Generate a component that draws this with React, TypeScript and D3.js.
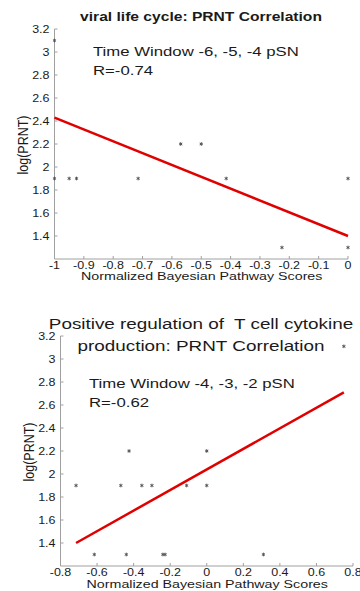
import { useEffect, useRef } from "react";
import * as d3 from "d3";

const width = 360;
const height = 591;

// panel 1: viral life cycle
const scoresA = [-1, -0.95, -0.925, -0.715, -0.57, -0.5, -0.415, -0.225, 0, 0, -1];
const prntA = [1.9, 1.9, 1.9, 1.9, 2.2, 2.2, 1.9, 1.3, 1.9, 1.3, 3.1];
const fitA = [
  [-1, 2.43],
  [0, 1.4],
];
const xTicksA = [-1, -0.9, -0.8, -0.7, -0.6, -0.5, -0.4, -0.3, -0.2, -0.1, 0];

// panel 2: positive regulation of T cell cytokine production
const scoresB = [-0.715, -0.47, -0.355, -0.3, -0.11, 0, -0.425, 0, -0.615, -0.44, -0.24, -0.228, 0.31, 0.75];
const prntB = [1.9, 1.9, 1.9, 1.9, 1.9, 1.9, 2.2, 2.2, 1.3, 1.3, 1.3, 1.3, 1.3, 3.11];
const fitB = [
  [-0.715, 1.4],
  [0.75, 2.71],
];
const xTicksB = [-0.8, -0.6, -0.4, -0.2, 0, 0.2, 0.4, 0.6, 0.8];

const yTicks = [1.4, 1.6, 1.8, 2, 2.2, 2.4, 2.6, 2.8, 3, 3.2];

const font = "'Liberation Sans', Arial, sans-serif";
const textColor = "#1a1a1a";
const axisColor = "#a0a0a0";
// the source figure is stretched sideways, so all text is widened a bit
const sx = 1.25;

type PanelSpec = {
  xDomain: [number, number];
  xRange: [number, number];
  yRange: [number, number];
  xs: number[];
  ys: number[];
  fit: number[][];
  xTicks: number[];
  title: string[];
  titleBold: boolean;
  titleSize: number;
  titleY: number;
  note: string[];
  noteX: number;
  noteY: number;
  xLabelGap: number;
};

const panels: PanelSpec[] = [
  {
    xDomain: [-1, 0],
    xRange: [54.5, 348],
    yRange: [259, 29],
    xs: scoresA,
    ys: prntA,
    fit: fitA,
    xTicks: xTicksA,
    title: ["viral life cycle: PRNT Correlation"],
    titleBold: true,
    titleSize: 12.5,
    titleY: 21,
    note: ["Time Window -6, -5, -4 pSN", "R=-0.74"],
    noteX: 93,
    noteY: 56,
    xLabelGap: 20.5,
  },
  {
    xDomain: [-0.8, 0.8],
    xRange: [60.5, 353],
    yRange: [566, 336],
    xs: scoresB,
    ys: prntB,
    fit: fitB,
    xTicks: xTicksB,
    title: ["Positive regulation of  T cell cytokine", "production: PRNT Correlation"],
    titleBold: false,
    titleSize: 15.1,
    titleY: 329,
    note: ["Time Window -4, -3, -2 pSN", "R=-0.62"],
    noteX: 89,
    noteY: 388,
    xLabelGap: 21.5,
  },
];

const fmt = (d: number) => String(+d.toFixed(1));

export default function App() {
  const svgRef = useRef<SVGSVGElement | null>(null);

  useEffect(() => {
    if (!svgRef.current) return;
    const svg = d3.select(svgRef.current);
    svg.selectAll("*").remove();

    panels.forEach((p) => {
      const x = d3.scaleLinear().domain(p.xDomain).range(p.xRange);
      const y = d3.scaleLinear().domain([1.2, 3.2]).range(p.yRange);
      const g = svg.append("g");

      // axis lines
      g.append("path")
        .attr("d", `M${p.xRange[0]},${p.yRange[1]}V${p.yRange[0]}H${p.xRange[1]}`)
        .attr("fill", "none")
        .attr("stroke", axisColor)
        .attr("stroke-width", 1);

      // y ticks
      g.selectAll(".ytick")
        .data(yTicks)
        .join("line")
        .attr("x1", p.xRange[0])
        .attr("x2", p.xRange[0] + 3)
        .attr("y1", (d) => y(d))
        .attr("y2", (d) => y(d))
        .attr("stroke", axisColor);

      g.selectAll(".ylab")
        .data(yTicks)
        .join("text")
        .attr("transform", (d) => `translate(${p.xRange[0] - 5},${y(d) + 3.6}) scale(${sx},1)`)
        .attr("text-anchor", "end")
        .attr("fill", textColor)
        .style("font-family", font)
        .style("font-size", "10px")
        .text(fmt);

      // x ticks
      g.selectAll(".xtick")
        .data(p.xTicks)
        .join("line")
        .attr("x1", (d) => x(d))
        .attr("x2", (d) => x(d))
        .attr("y1", p.yRange[0])
        .attr("y2", p.yRange[0] - 3)
        .attr("stroke", axisColor);

      g.selectAll(".xlab")
        .data(p.xTicks)
        .join("text")
        .attr("transform", (d) => `translate(${x(d)},${p.yRange[0] + 9.5}) scale(${sx},1)`)
        .attr("text-anchor", "middle")
        .attr("fill", textColor)
        .style("font-family", font)
        .style("font-size", "10px")
        .text(fmt);

      // axis titles
      g.append("text")
        .attr(
          "transform",
          `translate(${(p.xRange[0] + p.xRange[1]) / 2 + 0.5},${p.yRange[0] + p.xLabelGap}) scale(${sx},1)`,
        )
        .attr("text-anchor", "middle")
        .attr("fill", textColor)
        .style("font-family", font)
        .style("font-size", "11.4px")
        .text("Normalized Bayesian Pathway Scores");

      g.append("text")
        .attr(
          "transform",
          `translate(${p.xRange[0] - 26.5},${(p.yRange[0] + p.yRange[1]) / 2 + 1}) rotate(-90) scale(1,1.2)`,
        )
        .attr("text-anchor", "middle")
        .attr("fill", textColor)
        .style("font-family", font)
        .style("font-size", "12.5px")
        .text("log(PRNT)");

      // points
      const pts = p.xs.map((v, i) => [v, p.ys[i]]);
      const star = d3.symbol(d3.symbolAsterisk, 9);
      g.selectAll(".pt")
        .data(pts)
        .join("path")
        .attr("transform", (d) => `translate(${x(d[0])},${y(d[1])})`)
        .attr("d", star)
        .attr("fill", "none")
        .attr("stroke", "#555")
        .attr("stroke-width", 1);

      // regression line
      g.append("path")
        .attr(
          "d",
          d3
            .line<number[]>()
            .x((d) => x(d[0]))
            .y((d) => y(d[1]))(p.fit),
        )
        .attr("stroke", "#e00000")
        .attr("stroke-width", 2.5)
        .attr("fill", "none");

      // title
      p.title.forEach((line, i) => {
        g.append("text")
          .attr("transform", `translate(201,${p.titleY + i * 22}) scale(${sx},1)`)
          .attr("text-anchor", "middle")
          .attr("fill", textColor)
          .style("font-family", font)
          .style("font-size", `${p.titleSize}px`)
          .style("font-weight", p.titleBold ? "700" : "400")
          .style("white-space", "pre")
          .text(line);
      });

      // annotation
      p.note.forEach((line, i) => {
        g.append("text")
          .attr("transform", `translate(${p.noteX},${p.noteY + i * 19}) scale(${sx},1)`)
          .attr("fill", textColor)
          .style("font-family", font)
          .style("font-size", "13.4px")
          .text(line);
      });
    });
  }, []);

  return (
    <svg
      ref={svgRef}
      width={width}
      height={height}
      viewBox={`0 0 ${width} ${height}`}
      style={{ position: "absolute", left: 0, top: 0, background: "#fff" }}
    />
  );
}
